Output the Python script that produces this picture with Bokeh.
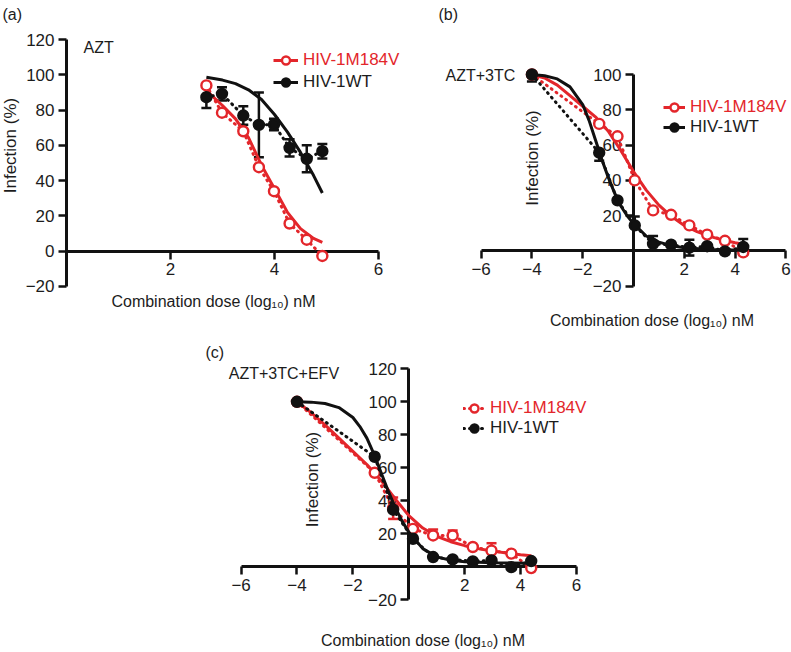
import numpy as np
from bokeh.plotting import figure
from bokeh.models import (Range1d, LinearAxis, FixedTicker, Label, Legend, LegendItem,
                          ColumnDataSource, Whisker, TeeHead, Spacer)
from bokeh.layouts import column, row
from bokeh.embed import file_html
from bokeh.resources import INLINE

RED = "#e3262b"
BLACK = "#111111"
TXT = "#1c1c1c"
FONT = "Liberation Sans"
FS = "17px"
FS_X = "16px"

# ---------------- data: panel (a) AZT ----------------
a_dose = [2.69, 2.99, 3.40, 3.70, 3.99, 4.29, 4.62, 4.92]
a_m184v = [94.0, 78.5, 68.0, 47.6, 34.0, 15.7, 6.5, -2.7]
a_wt = [87.3, 89.2, 76.9, 71.6, 71.8, 58.6, 52.4, 56.7]
a_wt_err_lo = [6.1, 3.8, 5.2, 18.4, 3.3, 4.9, 7.6, 4.1]
a_wt_err_hi = [6.1, 3.8, 5.2, 18.4, 3.3, 4.9, 7.6, 4.1]
a_fit_dose = [2.69, 3.0, 3.25, 3.5, 3.75, 4.0, 4.25, 4.5, 4.75, 4.92]
a_fit_m184v = [91.0, 82.6, 75.0, 64.4, 48.8, 35.4, 22.0, 12.8, 7.2, 5.0]
a_fit_wt = [98.6, 97.0, 95.0, 91.5, 86.0, 77.5, 67.5, 56.0, 43.0, 33.0]

# ---------------- data: panel (b) AZT+3TC ----------------
b_dose = [-4.0, -1.35, -0.63, 0.05, 0.77, 1.48, 2.20, 2.90, 3.60, 4.32]
b_m184v = [100.0, 72.0, 65.0, 40.0, 23.0, 20.5, 14.5, 9.3, 5.8, -0.8]
b_wt = [100.0, 55.7, 28.7, 14.5, 4.0, 3.6, 1.9, 2.7, -0.2, 2.3]
b_wt_err_lo = [4.0, 4.5, 0.0, 0.0, 0.0, 0.0, 4.5, 0.0, 0.0, 4.5]
b_wt_err_hi = [0.0, 0.0, 0.0, 5.0, 4.5, 0.0, 4.5, 0.0, 0.0, 4.5]
b_fit_dose = [-4.0, -3.5, -3.0, -2.5, -2.0, -1.5, -1.0, -0.5, 0.0, 0.5, 1.0, 1.5, 2.0, 2.5, 3.0, 3.5, 4.0, 4.32]
b_fit_m184v = [100.0, 98.0, 94.0, 88.0, 82.0, 76.0, 68.0, 57.0, 45.0, 34.5, 26.0, 19.5, 14.5, 11.0, 8.3, 6.3, 4.7, 3.8]
b_fit_wt_dose = [-4.0, -3.5, -3.0, -2.5, -2.0, -1.75, -1.5, -1.25, -1.0, -0.75, -0.5, -0.25, 0.0, 0.5, 1.0, 1.5, 2.0, 3.0, 4.32]
b_fit_wt = [100.0, 99.3, 97.5, 93.0, 83.0, 74.0, 63.0, 52.0, 42.0, 33.0, 25.5, 20.0, 15.5, 8.5, 5.0, 3.0, 1.8, 0.8, 0.4]

# ---------------- data: panel (c) AZT+3TC+EFV ----------------
c_dose = [-4.0, -1.22, -0.56, 0.15, 0.87, 1.57, 2.29, 2.96, 3.67, 4.38]
c_m184v = [100.0, 57.0, 35.5, 23.0, 19.0, 19.0, 12.0, 9.8, 8.0, -0.8]
c_wt = [100.0, 66.7, 34.6, 17.0, 5.9, 4.5, 3.3, 3.9, -0.2, 3.5]
c_m184v_err_lo = [0.0, 0.0, 6.5, 0.0, 0.0, 0.0, 0.0, 0.0, 0.0, 0.0]
c_m184v_err_hi = [0.0, 0.0, 6.5, 0.0, 3.6, 3.0, 0.0, 4.5, 0.0, 0.0]
c_fit_dose = [-4.0, -3.5, -3.0, -2.5, -2.0, -1.5, -1.0, -0.5, 0.0, 0.5, 1.0, 1.5, 2.0, 2.5, 3.0, 3.5, 4.0, 4.38]
c_fit_m184v = [100.0, 93.5, 86.0, 78.0, 70.0, 62.0, 52.5, 41.5, 31.0, 23.5, 18.5, 15.2, 12.8, 11.0, 9.5, 8.3, 7.3, 6.7]
c_fit_wt_dose = [-4.0, -3.5, -3.0, -2.5, -2.0, -1.75, -1.5, -1.25, -1.0, -0.75, -0.5, -0.25, 0.0, 0.5, 1.0, 1.5, 2.0, 3.0, 4.38]
c_fit_wt = [100.0, 99.8, 99.0, 96.5, 90.5, 85.0, 78.0, 68.5, 57.5, 46.5, 36.5, 28.0, 21.0, 11.0, 6.0, 4.0, 3.0, 2.4, 2.2]

# tick values
a_xticks = [2, 4, 6]
a_yticks = [-20, 0, 20, 40, 60, 80, 100, 120]
b_xticks = [-6, -4, -2, 2, 4, 6]
b_yticks = [-20, 20, 40, 60, 80, 100]
c_xticks = [-6, -4, -2, 2, 4, 6]
c_yticks = [-20, 20, 40, 60, 80, 100, 120]

LBL_M = "HIV-1M184V"
LBL_W = "HIV-1WT"
XLABEL = "Combination dose (log\u2081\u2080) nM"
YLABEL = "Infection (%)"


def make_panel(width, height, xr, yr):
    p = figure(width=width, height=height, x_range=Range1d(*xr), y_range=Range1d(*yr),
               x_axis_type=None, y_axis_type=None, toolbar_location=None,
               output_backend="svg", min_border=0, title=None)
    p.outline_line_color = None
    return p


def overrides(ticks):
    return {t: str(t).replace("-", "\u2212") for t in ticks}


def add_axes(p, xbounds, xticks, ybounds, yticks):
    common = dict(fixed_location=0, axis_line_width=3, axis_line_color=BLACK,
                  major_tick_line_width=2.5, major_tick_line_color=BLACK,
                  major_tick_out=8, major_tick_in=0, minor_tick_out=0, minor_tick_in=0,
                  major_label_text_font=FONT, major_label_text_font_size=FS,
                  major_label_text_color=TXT, major_label_standoff=4, level="underlay")
    ya = LinearAxis(bounds=ybounds, ticker=FixedTicker(ticks=yticks),
                    major_label_overrides=overrides(yticks), **common)
    xa = LinearAxis(bounds=xbounds, ticker=FixedTicker(ticks=xticks),
                    major_label_overrides=overrides(xticks), **common)
    p.add_layout(ya, "left")
    p.add_layout(xa, "below")


def add_errors(p, x, y, lo, hi, color):
    xs, lw, up = [], [], []
    for xi, yi, l, h in zip(x, y, lo, hi):
        if l > 0 or h > 0:
            xs.append(xi); lw.append(yi - l); up.append(yi + h)
    src = ColumnDataSource(dict(x=xs, lower=lw, upper=up))
    w = Whisker(source=src, base="x", lower="lower", upper="upper", dimension="height",
                line_color=color, line_width=2.5, level="underlay",
                upper_head=TeeHead(size=10, line_color=color, line_width=2.5),
                lower_head=TeeHead(size=10, line_color=color, line_width=2.5))
    p.add_layout(w)


def add_series(p, x, y, fx, fy, color, fill):
    conn = p.line(x, y, line_color=color, line_width=3, line_dash="1 5", line_cap="round")
    fit = p.line(fx, fy, line_color=color, line_width=3)
    sc = p.scatter(x, y, marker="circle", size=10, line_color=color, line_width=2.4,
                   fill_color=fill)
    return conn, fit, sc


def add_legend(p, label, renderers, color, loc, gw):
    leg = Legend(items=[LegendItem(label=label, renderers=renderers)], location=loc,
                 background_fill_alpha=0, border_line_color=None, padding=0, margin=0,
                 spacing=0, glyph_width=gw, glyph_height=20, label_height=20,
                 label_standoff=5, label_text_font=FONT, label_text_font_size=FS,
                 label_text_color=color, label_text_baseline="middle")
    p.add_layout(leg)


def add_text(p, x, y, text, align="left", angle=0.0, size=FS_X):
    p.add_layout(Label(x=x, y=y, text=text, text_font=FONT, text_font_size=size,
                       text_color=TXT, text_align=align, text_baseline="middle",
                       angle=angle))


# ---------------- panel (a) ----------------
pa = make_panel(430, 332, (-1.2692, 7.0), (-46.09, 142.12))
add_axes(pa, (0, 6), a_xticks, (-20, 120), a_yticks)
add_errors(pa, a_dose, a_wt, a_wt_err_lo, a_wt_err_hi, BLACK)
_, fa_m, sa_m = add_series(pa, a_dose, a_m184v, a_fit_dose, a_fit_m184v, RED, "white")
_, fa_w, sa_w = add_series(pa, a_dose, a_wt, a_fit_dose, a_fit_wt, BLACK, BLACK)
add_legend(pa, LBL_M, [fa_m, sa_m], RED, (273, 262), 25)
add_legend(pa, LBL_W, [fa_w, sa_w], TXT, (273, 240), 25)
add_text(pa, -1.231, 134.2, "(a)")
add_text(pa, 0.327, 115.2, "AZT")
add_text(pa, -1.08, 59.9, YLABEL, align="center", angle=np.pi / 2, size=FS)
add_text(pa, 2.827, -28.5, XLABEL, align="center")

# ---------------- panel (b) ----------------
pb = make_panel(361, 332, (-7.992, 6.220), (-46.18, 141.93))
add_axes(pb, (-6, 6), b_xticks, (-20, 100), b_yticks)
add_errors(pb, b_dose, b_wt, b_wt_err_lo, b_wt_err_hi, BLACK)
_, fb_m, sb_m = add_series(pb, b_dose, b_m184v, b_fit_dose, b_fit_m184v, RED, "white")
_, fb_w, sb_w = add_series(pb, b_dose, b_wt, b_fit_wt_dose, b_fit_wt, BLACK, BLACK)
add_legend(pb, LBL_M, [fb_m, sb_m], RED, (233, 215), 22)
add_legend(pb, LBL_W, [fb_w, sb_w], TXT, (233, 195), 22)
add_text(pb, -7.677, 134.0, "(b)")
add_text(pb, -7.40, 99.4, "AZT+3TC")
add_text(pb, -3.988, 52.7, YLABEL, align="center", angle=np.pi / 2, size=FS)
add_text(pb, 0.728, -39.4, XLABEL, align="center")

# ---------------- panel (c) ----------------
pc = make_panel(410, 320, (-7.524, 7.145), (-51.94, 142.0))
add_axes(pc, (-6, 6), c_xticks, (-20, 120), c_yticks)
add_errors(pc, c_dose, c_m184v, c_m184v_err_lo, c_m184v_err_hi, RED)
cc_m, fc_m, sc_m = add_series(pc, c_dose, c_m184v, c_fit_dose, c_fit_m184v, RED, "white")
cc_w, fc_w, sc_w = add_series(pc, c_dose, c_wt, c_fit_wt_dose, c_fit_wt, BLACK, BLACK)
add_legend(pc, LBL_M, [cc_m, sc_m], RED, (265, 234), 22)
add_legend(pc, LBL_W, [cc_w, sc_w], TXT, (265, 214), 22)
add_text(pc, -7.274, 129.9, "(c)")
add_text(pc, -6.44, 117.2, "AZT+3TC+EFV")
add_text(pc, -3.456, 52.9, YLABEL, align="center", angle=np.pi / 2, size=FS)
add_text(pc, 0.508, -44.7, XLABEL, align="center")

layout = column(row(pa, pb), row(Spacer(width=198, height=320), pc))

open("out.html", "w").write(file_html(layout, INLINE))
